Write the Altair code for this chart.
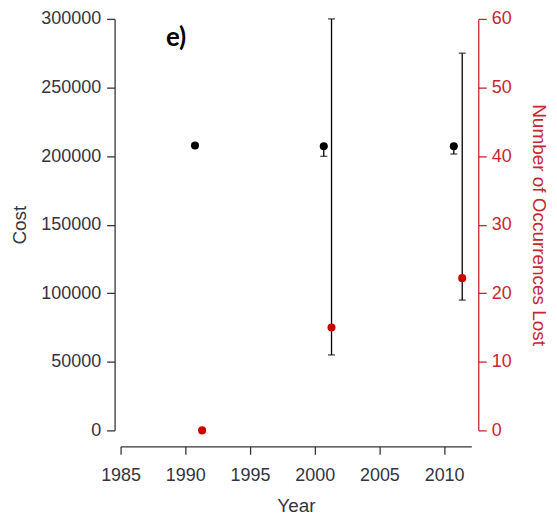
import altair as alt
import pandas as pd

# Cost series (left axis)
cost_year = [1990.75, 2000.7, 2010.75]
cost_val = [207700, 207200, 207200]
cost_lo = [207700, 199800, 201500]
cost_hi = [207700, 207200, 207200]

# Occurrences lost series (right axis)
occ_year = [1991.3, 2001.3, 2011.4]
occ_val = [0, 15, 22.2]
occ_lo = [0, 11, 19]
occ_hi = [0, 60, 55]

x_ticks = [1985, 1990, 1995, 2000, 2005, 2010]
cost_ticks = [0, 50000, 100000, 150000, 200000, 250000, 300000]
occ_ticks = [0, 10, 20, 30, 40, 50, 60]

panel_label = ["e)"]
panel_label_year = [1988.5]
panel_label_cost = [280000]

cost_df = pd.DataFrame({"Year": cost_year, "Cost": cost_val, "lo": cost_lo, "hi": cost_hi})
occ_df = pd.DataFrame({"Year": occ_year, "Occ": occ_val, "lo": occ_lo, "hi": occ_hi})
lab_df = pd.DataFrame({"Year": panel_label_year, "Cost": panel_label_cost, "t": panel_label})

FONT = "Liberation Sans"
RED = "#c4272f"
GREY = "#33343f"
LFS = 18
TFS = 19

xscale = alt.Scale(domain=[1985, 2012.1], nice=False, zero=False)
xenc = alt.X("Year:Q", scale=xscale,
             axis=alt.Axis(values=x_ticks, format="d", title="Year", offset=16, grid=False,
                           domainColor=GREY, tickColor=GREY, labelColor=GREY, titleColor=GREY,
                           tickSize=8, labelFontSize=LFS, titleFontSize=TFS, labelFont=FONT, titleFont=FONT,
                           titleFontWeight="normal", labelPadding=12, titlePadding=12,
                           labelFlush=False, labelOverlap=False,
                           domainWidth=1.3, tickWidth=1.3))

cscale = alt.Scale(domain=[0, 300000], nice=False)
cost_axis = alt.Axis(values=cost_ticks, format="d", title="Cost", orient="left", offset=6, grid=False,
                     domainColor=GREY, tickColor=GREY, labelColor=GREY, titleColor=GREY,
                     tickSize=8, labelFontSize=LFS, titleFontSize=TFS, labelFont=FONT, titleFont=FONT,
                     titleFontWeight="normal", labelPadding=6, titlePadding=11,
                     labelFlush=False, labelOverlap=False,
                     domainWidth=1.3, tickWidth=1.3)

base_c = alt.Chart(cost_df)
c_rule = base_c.mark_rule(color="black", strokeWidth=1.3).encode(
    x=xenc, y=alt.Y("lo:Q", scale=cscale, axis=cost_axis), y2="hi:Q")
c_cap_lo = base_c.mark_tick(color="black", orient="horizontal", size=7, thickness=1.3).encode(
    x="Year:Q", y=alt.Y("lo:Q", scale=cscale))
c_cap_hi = base_c.mark_tick(color="black", orient="horizontal", size=7, thickness=1.3).encode(
    x="Year:Q", y=alt.Y("hi:Q", scale=cscale))
c_pt = base_c.mark_circle(color="black", opacity=1, size=65).encode(
    x="Year:Q", y=alt.Y("Cost:Q", scale=cscale))
lab = alt.Chart(lab_df).mark_text(align="left", baseline="alphabetic", fontSize=26,
                                  fontWeight="bold", font="Lato", color="black").encode(
    x="Year:Q", y=alt.Y("Cost:Q", scale=cscale), text="t:N")
left = alt.layer(c_rule, c_cap_lo, c_cap_hi, c_pt, lab)

oscale = alt.Scale(domain=[0, 60], nice=False)
occ_axis = alt.Axis(values=occ_ticks, format="d", title="Number of Occurrences Lost", orient="right",
                    offset=7, grid=False,
                    domainColor=RED, tickColor=RED, labelColor=RED, titleColor=RED,
                    tickSize=8, labelFontSize=LFS, titleFontSize=TFS, labelFont=FONT, titleFont=FONT,
                    titleFontWeight="normal", labelPadding=5, titlePadding=17,
                    labelFlush=False, labelOverlap=False,
                    domainWidth=1.3, tickWidth=1.3)

base_o = alt.Chart(occ_df)
o_rule = base_o.mark_rule(color="black", strokeWidth=1.3).encode(
    x="Year:Q", y=alt.Y("lo:Q", scale=oscale, axis=occ_axis), y2="hi:Q")
o_cap_lo = base_o.mark_tick(color="black", orient="horizontal", size=7, thickness=1.3).encode(
    x="Year:Q", y=alt.Y("lo:Q", scale=oscale))
o_cap_hi = base_o.mark_tick(color="black", orient="horizontal", size=7, thickness=1.3).encode(
    x="Year:Q", y=alt.Y("hi:Q", scale=oscale))
o_pt = base_o.mark_circle(color="#cc0000", opacity=1, size=65).encode(
    x="Year:Q", y=alt.Y("Occ:Q", scale=oscale))
right = alt.layer(o_rule, o_cap_lo, o_cap_hi, o_pt)

chart = alt.layer(left, right).resolve_scale(y="independent").properties(
    width=352, height=413,
    background="white",
    autosize=alt.AutoSizeParams(type="none"),
    padding={"left": 113, "top": 10, "right": 78, "bottom": 84},
).configure_view(stroke=None)

chart.save("out.html", embed_options={"renderer": "svg", "actions": False})
